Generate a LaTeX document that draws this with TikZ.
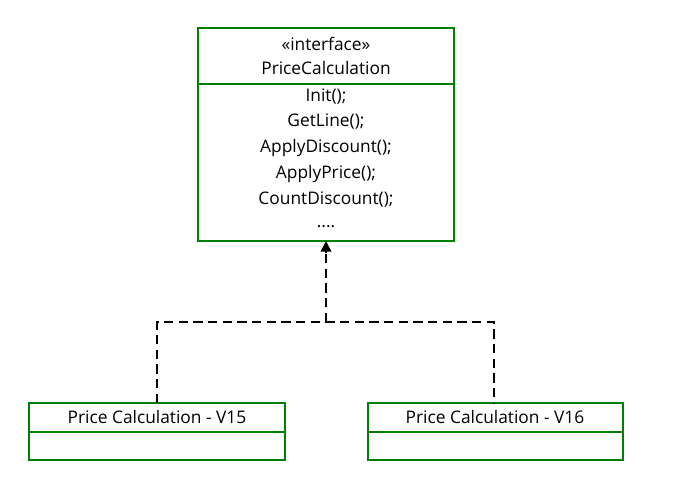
\documentclass[tikz,border=0pt]{standalone}
\usepackage{fontspec}
\setmainfont{Open Sans}
\usetikzlibrary{arrows.meta}
\definecolor{boxgreen}{RGB}{0,128,0}
\begin{document}
\begin{tikzpicture}[x=0.75pt,y=-0.75pt,
  box/.style={draw=boxgreen,line width=1.1pt},
  txt/.style={font=\fontsize{13}{15}\selectfont,inner sep=0pt,anchor=center},
  conn/.style={line width=1.5pt,dash pattern=on 7pt off 4pt}]
\useasboundingbox (0,0) rectangle (674,497);
\draw[box] (198,28) rectangle (454,241);
\draw[box] (198,84) -- (454,84);
\node[txt] (st) at (326,44) {<<interface>>};
\node[txt] (nm) at (326,68) {PriceCalculation};
\node[txt] (m1) at (326,97) {Init();};
\node[txt] (m2) at (326,122) {GetLine();};
\node[txt] (m3) at (326,148) {ApplyDiscount();};
\node[txt] (m4) at (326,174) {ApplyPrice();};
\node[txt] (m5) at (326,200) {CountDiscount();};
\node[txt] (m6) at (326,227) {....};
\coordinate (top) at (326,241);
\coordinate (mid) at (326,322);
\coordinate (l) at (157,322);
\coordinate (r) at (494,322);
\draw[box] (29,403) rectangle (285,460);
\draw[box] (29,432) -- (285,432);
\draw[box] (368,403) rectangle (623,460);
\draw[box] (368,432) -- (623,432);
\node[txt] (v15) at (157,417) {Price Calculation - V15};
\node[txt] (v16) at (495,417) {Price Calculation - V16};
\coordinate (lb) at (157,403);
\coordinate (rb) at (494,403);
\draw[conn] (lb) -- (l) -- (r) -- (rb);
\draw[conn] (mid) -- (326,252);
\draw[line width=1.2pt,-{Triangle[length=8pt,width=8pt]}] (326,253) -- (top);
\end{tikzpicture}
\end{document}
